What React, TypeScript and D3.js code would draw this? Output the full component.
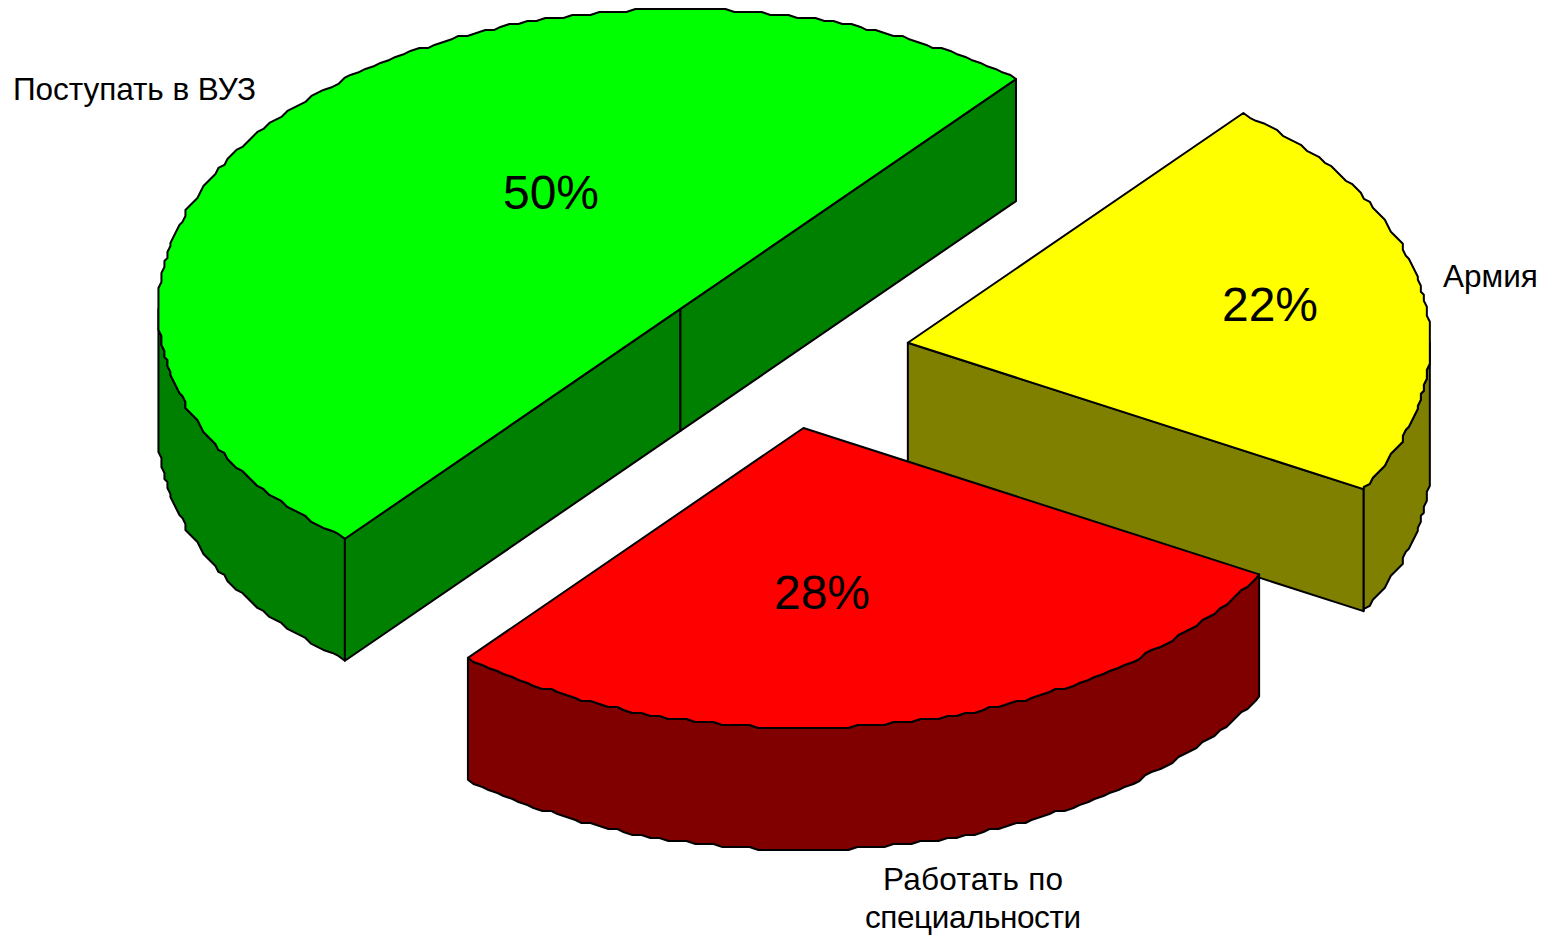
import * as d3 from 'd3';

const categories = ['Армия', 'Работать по специальности', 'Поступать в ВУЗ'];
const values = [22, 28, 50];
const topColors = ['#ffff00', '#ff0000', '#00ff00'];
const sideColors = ['#808000', '#800000', '#008000'];

const W = 1549;
const H = 935;
const rx = 522;
const ry = 300;
const depth = 122;
const explodeX = 0.249;
const explodeY = 0.244;
const cx = 780;
const cy = 356;
const FONT = '"Liberation Sans", Arial, sans-serif';

const rad = (deg: number) => (deg * Math.PI) / 180;

// the old renderer rounded its arcs to a coarse grid, hence the wobbly outline
const GRID = 3;

type ArcPoint = { t: number; p: [number, number] };

function arcPoints(ox: number, oy: number, a0: number, a1: number) {
    const ts = [a0];
    for (let k = Math.floor((a0 * 180) / Math.PI) + 1; rad(k) < a1 - 1e-9; k++) ts.push(rad(k));
    ts.push(a1);
    return ts.map((t, i): ArcPoint => {
        const x = Math.sin(t) * rx;
        const y = -Math.cos(t) * ry;
        if (i === 0 || i === ts.length - 1) return { t, p: [ox + x, oy + y] };
        return { t, p: [ox + Math.round(x / GRID) * GRID, oy + Math.round(y / GRID) * GRID] };
    });
}

const line = d3.line();

export default function App() {
    const arcs = d3.pie<number>().sort(null).startAngle(rad(40)).endAngle(rad(400))(values);
    const shared = { stroke: '#000', strokeWidth: 2, strokeLinejoin: 'round' as const };

    return (
        <svg
            width={W}
            height={H}
            viewBox={`0 0 ${W} ${H}`}
            style={{ position: 'absolute', left: 0, top: 0, background: '#fff' }}
        >
            {arcs.map((d, i) => {
                const mid = (d.startAngle + d.endAngle) / 2;
                const ox = cx + Math.sin(mid) * rx * explodeX;
                const oy = cy - Math.cos(mid) * ry * explodeY;
                const arc = arcPoints(ox, oy, d.startAngle, d.endAngle);
                const top = arc.map(a => a.p);

                // outer wall: only the part on the front half of the ellipse
                const wallTop = arc
                    .filter(a => a.t >= rad(90) - 1e-9 && a.t <= rad(270) + 1e-9)
                    .map(a => a.p);
                const wallBottom = wallTop.map(([x, y]) => [x, y + depth] as [number, number]).reverse();

                const faces: [number, number][][] = [];
                const startP = top[0];
                const endP = top[top.length - 1];
                if (Math.sin(d.startAngle) < 0) {
                    faces.push([[ox, oy], startP, [startP[0], startP[1] + depth], [ox, oy + depth]]);
                }
                if (Math.sin(d.endAngle) > 0) {
                    faces.push([[ox, oy], endP, [endP[0], endP[1] + depth], [ox, oy + depth]]);
                }

                return (
                    <g key={categories[i]}>
                        {wallTop.length > 0 && (
                            <path d={line([...wallTop, ...wallBottom])! + 'Z'} fill={sideColors[i]} {...shared} />
                        )}
                        {faces.map((f, j) => (
                            <path key={j} d={line(f)! + 'Z'} fill={sideColors[i]} {...shared} />
                        ))}
                        <path d={line([[ox, oy], ...top])! + 'Z'} fill={topColors[i]} {...shared} />
                    </g>
                );
            })}

            <g fontFamily={FONT} fontSize={48} textAnchor="middle" fill="#000">
                <text x={1270} y={321}>{values[0]}%</text>
                <text x={822} y={609}>{values[1]}%</text>
                <text x={551} y={209}>{values[2]}%</text>
            </g>

            <g fontFamily={FONT} fontSize={31.5} fill="#000">
                <text x={1443} y={287}>{categories[0]}</text>
                <text x={973} y={890} textAnchor="middle" textLength={180}>Работать по</text>
                <text x={973} y={928} textAnchor="middle" textLength={216}>специальности</text>
                <text x={13} y={100} textLength={243}>{categories[2]}</text>
            </g>
        </svg>
    );
}
